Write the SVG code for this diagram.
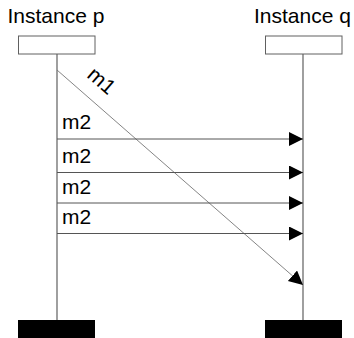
<svg xmlns="http://www.w3.org/2000/svg" width="354" height="338" viewBox="0 0 354 338">
<style>
.lbl{font-family:"Liberation Sans",Arial,sans-serif;font-size:21px;fill:#000}
.head{fill:#fff;stroke:#606060;stroke-width:1}
.end{fill:#000}
.life{stroke:#606060;stroke-width:1.2;fill:none}
.msg{stroke:#555;stroke-width:1;fill:none}
.diag{stroke:#777;stroke-width:0.9;fill:none}
</style>
<defs>
<marker id="ah" markerUnits="userSpaceOnUse" markerWidth="16" markerHeight="16" refX="14" refY="7" orient="auto">
<path d="M0,0 L14,7 L0,14 Z" fill="#000"/>
</marker>
</defs>
<g id="instance-p">
<text class="lbl" x="7.5" y="23">Instance p</text>
<rect class="head" x="18.5" y="36" width="76.5" height="18"/>
<line class="life" x1="57" y1="54" x2="57" y2="320"/>
<rect class="end" x="18" y="320" width="77" height="18"/>
</g>
<g id="instance-q">
<text class="lbl" x="254" y="23">Instance q</text>
<rect class="head" x="265.5" y="36" width="76.5" height="18"/>
<line class="life" x1="303" y1="54" x2="303" y2="320"/>
<rect class="end" x="265" y="320" width="77" height="18"/>
</g>
<g id="connectors">
<line class="diag" x1="57" y1="70" x2="303" y2="285" marker-end="url(#ah)"/>
<text class="lbl" x="97" y="86" text-anchor="middle" transform="rotate(41 97 86)">m1</text>
<line class="msg" x1="57" y1="139" x2="303" y2="139" marker-end="url(#ah)"/>
<text class="lbl" x="62" y="128.5">m2</text>
<line class="msg" x1="57" y1="172.5" x2="303" y2="172.5" marker-end="url(#ah)"/>
<text class="lbl" x="62" y="163">m2</text>
<line class="msg" x1="57" y1="203" x2="303" y2="203" marker-end="url(#ah)"/>
<text class="lbl" x="62" y="193.5">m2</text>
<line class="msg" x1="57" y1="233.5" x2="303" y2="233.5" marker-end="url(#ah)"/>
<text class="lbl" x="62" y="224">m2</text>
</g>
</svg>
